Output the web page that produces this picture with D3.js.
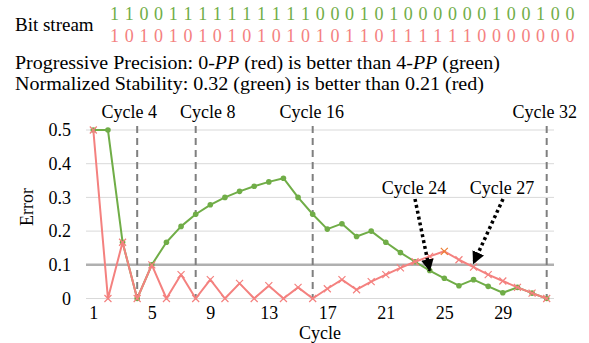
<!DOCTYPE html>
<html>
<head>
<meta charset="utf-8">
<script src="https://cdn.jsdelivr.net/npm/d3@7"></script>
<style>
  body { margin: 0; background: #fff; }
  svg { display: block; font-family: "Liberation Serif", serif; }
</style>
</head>
<body>
<svg id="chart" width="589" height="343"></svg>
<script>
// bit streams (top = green / 4-PP, bottom = red / 0-PP)
const greenBits = "11001111111111000101000000100100".split('');
const redBits   = "10101010101010101101111110000000".split('');

const cycles = d3.range(1, 33);
const greenError = [0.5, 0.5, 0.167, 0, 0.1, 0.167, 0.214, 0.25, 0.278, 0.3, 0.318, 0.333, 0.346, 0.357, 0.3, 0.25,
  0.206, 0.222, 0.184, 0.2, 0.167, 0.136, 0.109, 0.083, 0.06, 0.038, 0.056, 0.036, 0.017, 0.033, 0.016, 0];
const redError = [0.5, 0, 0.167, 0, 0.1, 0, 0.071, 0, 0.056, 0, 0.045, 0, 0.038, 0, 0.033, 0,
  0.029, 0.056, 0.026, 0.05, 0.071, 0.091, 0.109, 0.125, 0.14, 0.115, 0.093, 0.071, 0.052, 0.033, 0.016, 0];

const yTicks = [0, 0.1, 0.2, 0.3, 0.4, 0.5];
const xTicks = [1, 5, 9, 13, 17, 21, 25, 29];
const markedCycles = [4, 8, 16, 32];
const threshold = 0.1;
const highlightCycle = 25;

const GREEN = '#70ad47', RED = '#f4817f', ORANGE = '#ed7d31';

const svg = d3.select('#chart');

// header text
svg.append('text').attr('x', 15).attr('y', 31).style('font-size', '19px').text('Bit stream');

const bx = d3.scalePoint().domain(d3.range(greenBits.length)).range([114.5, 570]);
svg.append('g').attr('fill', GREEN).style('font-size', '18px').attr('text-anchor', 'middle')
  .selectAll('text').data(greenBits).join('text')
  .attr('x', (d, i) => bx(i)).attr('y', 19.5).text(d => d);
svg.append('g').attr('fill', RED).style('font-size', '18px').attr('text-anchor', 'middle')
  .selectAll('text').data(redBits).join('text')
  .attr('x', (d, i) => bx(i)).attr('y', 42).text(d => d);

// Cambria-like width: stretch to the reference line lengths
const l1 = svg.append('text').attr('x', 15).attr('y', 68.5).style('font-size', '18.5px')
  .attr('textLength', 485).attr('lengthAdjust', 'spacingAndGlyphs');
l1.append('tspan').text('Progressive Precision: 0-');
l1.append('tspan').style('font-style', 'italic').text('PP');
l1.append('tspan').text(' (red) is better than 4-');
l1.append('tspan').style('font-style', 'italic').text('PP');
l1.append('tspan').text(' (green)');

svg.append('text').attr('x', 15).attr('y', 89.5).style('font-size', '18.5px')
  .attr('textLength', 469).attr('lengthAdjust', 'spacingAndGlyphs')
  .text('Normalized Stability: 0.32 (green) is better than 0.21 (red)');

// chart
const x = d3.scalePoint().domain(cycles).range([86, 554]).padding(0.5);
const y = d3.scaleLinear().domain([0, 0.5]).range([298.5, 130]);

svg.append('g')
  .attr('stroke', '#d9d9d9')
  .attr('stroke-width', 1)
  .selectAll('line')
  .data(yTicks)
  .join('line')
  .attr('x1', 86).attr('x2', 554)
  .attr('y1', d => y(d)).attr('y2', d => y(d));

svg.append('line')
  .attr('x1', 86).attr('x2', 554)
  .attr('y1', y(threshold)).attr('y2', y(threshold))
  .attr('stroke', '#b0b0b0').attr('stroke-width', 2.5);

const yAxis = svg.append('g')
  .attr('transform', 'translate(74,0)')
  .call(d3.axisLeft(y).tickValues(yTicks).tickSize(0).tickPadding(3)
    .tickFormat(d => d === 0 ? '0' : d3.format('.1f')(d)));
yAxis.select('.domain').remove();
yAxis.selectAll('text').attr('fill', '#000').style('font-size', '18px').style('font-family', 'Liberation Serif');

const xAxis = svg.append('g')
  .attr('transform', `translate(0,${y(0)})`)
  .call(d3.axisBottom(x).tickValues(xTicks).tickSize(0).tickPadding(8));
xAxis.select('.domain').remove();
xAxis.selectAll('text').attr('fill', '#000').style('font-size', '18px').style('font-family', 'Liberation Serif');

svg.append('text').attr('x', 320).attr('y', 338.5).attr('text-anchor', 'middle')
  .style('font-size', '18px').text('Cycle');
svg.append('text').attr('transform', 'translate(33,207) rotate(-90)').attr('text-anchor', 'middle')
  .style('font-size', '18px').text('Error');

// dashed cycle markers
svg.append('g')
  .attr('stroke', '#7f7f7f')
  .attr('stroke-width', 2)
  .attr('stroke-dasharray', '7,5')
  .selectAll('line')
  .data(markedCycles)
  .join('line')
  .attr('x1', d => x(d)).attr('x2', d => x(d))
  .attr('y1', 126).attr('y2', y(0));

const labelShift = { 4: -8, 8: 12, 16: -1, 32: -2 };
svg.append('g').attr('text-anchor', 'middle').style('font-size', '18px')
  .selectAll('text').data(markedCycles).join('text')
  .attr('x', d => x(d) + labelShift[d]).attr('y', 118)
  .text(d => 'Cycle ' + d);

// series
const line = d3.line().x((d, i) => x(cycles[i])).y(d => y(d));

svg.append('path').datum(greenError)
  .attr('fill', 'none').attr('stroke', GREEN).attr('stroke-width', 2)
  .attr('stroke-linejoin', 'round').attr('d', line);
svg.append('g').attr('fill', GREEN)
  .selectAll('circle').data(greenError).join('circle')
  .attr('cx', (d, i) => x(cycles[i])).attr('cy', d => y(d)).attr('r', 2.8);

svg.append('path').datum(redError)
  .attr('fill', 'none').attr('stroke', RED).attr('stroke-width', 2)
  .attr('stroke-linejoin', 'round').attr('d', line);
const s = 3.5;
svg.append('g').attr('stroke-width', 1.2)
  .selectAll('path').data(redError).join('path')
  .attr('stroke', (d, i) => cycles[i] === highlightCycle ? ORANGE : RED)
  .attr('fill', 'none')
  .attr('d', (d, i) => {
    const cx = x(cycles[i]), cy = y(d);
    return `M${cx - s},${cy - s}L${cx + s},${cy + s}M${cx - s},${cy + s}L${cx + s},${cy - s}`;
  });

// dotted arrows
svg.append('defs').append('marker')
  .attr('id', 'head').attr('viewBox', '0 0 10 10')
  .attr('refX', 9).attr('refY', 5)
  .attr('markerWidth', 3.6).attr('markerHeight', 3.6)
  .attr('markerUnits', 'strokeWidth')
  .attr('orient', 'auto')
  .append('path').attr('d', 'M0,0L10,5L0,10Z').attr('fill', '#000');

const callouts = [
  { cycle: 24, value: greenError[23], lx: 414, ly: 194, dy: 0 },
  { cycle: 27, value: redError[26], lx: 502, ly: 194, dy: -4 }
];
svg.append('g').attr('text-anchor', 'middle').style('font-size', '18px')
  .selectAll('text').data(callouts).join('text')
  .attr('x', d => d.lx).attr('y', d => d.ly).text(d => 'Cycle ' + d.cycle);
svg.append('g')
  .selectAll('line').data(callouts).join('line')
  .attr('x1', d => d.lx + 1).attr('y1', d => d.ly + 5)
  .attr('x2', d => x(d.cycle)).attr('y2', d => y(d.value) + d.dy)
  .attr('stroke', '#000').attr('stroke-width', 3.5)
  .attr('stroke-dasharray', '3,3')
  .attr('marker-end', 'url(#head)');
</script>
</body>
</html>
